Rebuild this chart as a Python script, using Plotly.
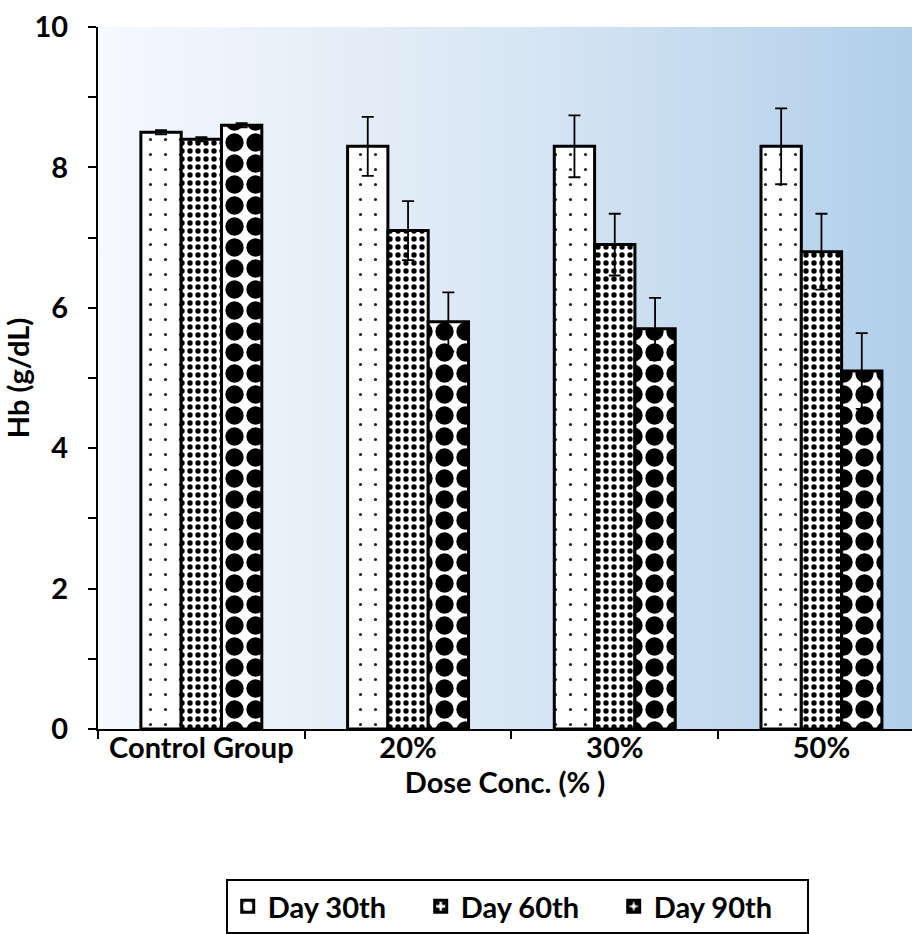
import base64
import plotly.graph_objects as go

categories = ["Control Group", "20%", "30%", "50%"]
series_names = ["Day 30th", "Day 60th", "Day 90th"]
day30 = [8.5, 8.3, 8.3, 8.3]
day60 = [8.4, 7.1, 6.9, 6.8]
day90 = [8.6, 5.8, 5.7, 5.1]
err30 = [0.03, 0.42, 0.44, 0.54]
err60 = [0.03, 0.42, 0.44, 0.54]
err90 = [0.03, 0.42, 0.44, 0.54]
y_ticks = [0, 2, 4, 6, 8, 10]

values = [day30, day60, day90]
errors = [err30, err60, err90]
patterns = [
    dict(shape=".", size=15, solidity=0.035, fgcolor="#222222", bgcolor="white", fillmode="replace", fgopacity=1),
    dict(shape=".", size=8, solidity=0.36, fgcolor="black", bgcolor="white", fillmode="replace", fgopacity=1),
    dict(shape=".", size=21, solidity=0.6, fgcolor="black", bgcolor="white", fillmode="replace", fgopacity=1),
]

FONT = "Lato"
FS = 29

fig = go.Figure()
for name, v, e, p in zip(series_names, values, errors, patterns):
    fig.add_trace(go.Bar(
        name=name, x=categories, y=v,
        marker=dict(color="white", pattern=p, line=dict(color="black", width=3)),
        error_y=dict(type="data", array=e, visible=True, color="black", thickness=1.8, width=6),
    ))

svg = ('<svg xmlns="http://www.w3.org/2000/svg" width="200" height="100" preserveAspectRatio="none">'
       '<defs><linearGradient id="g" x1="0" x2="1" y1="0" y2="0">'
       '<stop offset="0" stop-color="#F6F9FD"/><stop offset="0.5" stop-color="#D9E7F4"/>'
       '<stop offset="1" stop-color="#B1CFEA"/></linearGradient></defs>'
       '<rect width="200" height="100" fill="url(#g)"/></svg>')
uri = "data:image/svg+xml;base64," + base64.b64encode(svg.encode()).decode()

fig.update_layout(
    width=912, height=934,
    margin=dict(l=98, r=0, t=27, b=203, pad=0),
    paper_bgcolor="white", plot_bgcolor="rgba(0,0,0,0)",
    barmode="group", bargap=0.415, bargroupgap=0,
    font=dict(family=FONT, size=FS, color="black", weight="bold"),
    images=[dict(source=uri, xref="paper", yref="paper", x=0, y=1, sizex=1, sizey=1,
                 sizing="stretch", xanchor="left", yanchor="top", layer="below")],
    legend=dict(orientation="h", x=0.515, xanchor="center", y=-0.2145, yanchor="top",
                bordercolor="black", borderwidth=2, bgcolor="white",
                font=dict(family=FONT, size=FS, color="black", weight="bold"),
                itemwidth=30, traceorder="normal", entrywidth=148, entrywidthmode="pixels"),
    showlegend=True,
)
fig.update_xaxes(
    type="category", range=[-0.5, 3.438], tickson="boundaries",
    ticks="outside", ticklen=8, tickwidth=2, tickcolor="black",
    showline=True, linecolor="black", linewidth=2, showgrid=False,
    tickfont=dict(family=FONT, size=FS, weight="bold"), ticklabelstandoff=-8,
    title=dict(text="Dose Conc. (% )", font=dict(family=FONT, size=FS, weight="bold"), standoff=10),
)
fig.update_yaxes(
    range=[0, 10], tickvals=y_ticks, ticks="outside", ticklen=8, tickwidth=2, tickcolor="black",
    minor=dict(dtick=1, ticks="outside", ticklen=8, tickwidth=2, tickcolor="black", showgrid=False),
    showline=True, linecolor="black", linewidth=2, showgrid=False, zeroline=False,
    tickfont=dict(family=FONT, size=FS, weight="bold"), ticklabelstandoff=14,
    title=dict(text="Hb (g/dL)", font=dict(family=FONT, size=FS, weight="bold"), standoff=2),
)

fig.write_html("out.html")
